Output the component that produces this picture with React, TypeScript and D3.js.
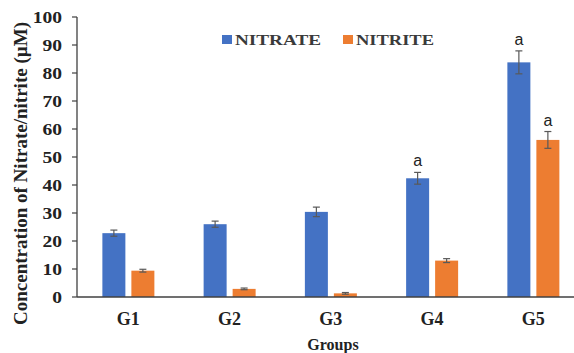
import React from "react";
import * as d3 from "d3";

// Mean concentrations (µM) and standard errors per group
const groups = ["G1", "G2", "G3", "G4", "G5"];
const nitrate = [22.8, 26.0, 30.4, 42.4, 83.8];
const nitrateErr = [1.1, 1.1, 1.7, 2.1, 4.1];
const nitrite = [9.4, 2.9, 1.3, 13.0, 56.1];
const nitriteErr = [0.5, 0.3, 0.3, 0.7, 3.0];
// Significance letters shown above bars ("" = none)
const nitrateSig = ["", "", "", "a", "a"];
const nitriteSig = ["", "", "", "", "a"];
const yTicks = [0, 10, 20, 30, 40, 50, 60, 70, 80, 90, 100];
const seriesNames = ["NITRATE", "NITRITE"];
const colors = ["#4472C4", "#ED7D31"];

const W = 574;
const H = 353;
const left = 77;
const top = 17;
const bottom = 297;
const plotRight = 584;

export default function App() {
  const y = d3.scaleLinear().domain([0, 100]).range([bottom, top]);
  const x = d3.scaleBand().domain(groups).range([left + 0.75, plotRight]).padding(0);
  const barW = 23;
  const gap = 6;
  const serif = "'Liberation Serif', 'Times New Roman', serif";

  const series = [
    { vals: nitrate, errs: nitrateErr, sig: nitrateSig, color: colors[0], off: -gap / 2 - barW },
    { vals: nitrite, errs: nitriteErr, sig: nitriteSig, color: colors[1], off: gap / 2 },
  ];

  return (
    <svg width={W} height={H} style={{ position: "absolute", left: 0, top: 0, background: "#fff" }}>
      {/* y axis */}
      <line x1={left} x2={left} y1={top} y2={bottom} stroke="#404040" strokeWidth={1.3} />
      {yTicks.map((t) => (
        <g key={t}>
          <line x1={left - 5} x2={left} y1={y(t)} y2={y(t)} stroke="#404040" strokeWidth={1.2} />
          <text
            transform={`translate(62,${y(t)}) scale(1.15,1)`}
            dy="0.35em"
            textAnchor="end"
            fontFamily={serif}
            fontWeight="bold"
            fontSize={17}
            fill="#222"
          >
            {t}
          </text>
        </g>
      ))}
      <text
        transform={`translate(21,${(22 + 325) / 2}) rotate(-90)`}
        textAnchor="middle"
        dy="0.35em"
        fontFamily={serif}
        fontWeight="bold"
        fontSize={18}
        textLength={303}
        lengthAdjust="spacingAndGlyphs"
        fill="#222"
      >
        Concentration of Nitrate/nitrite (µM)
      </text>

      {/* bars with error bars */}
      {series.map((s, si) =>
        groups.map((g, i) => {
          const cx = x(g)! + x.bandwidth() / 2 + s.off;
          const v = s.vals[i];
          const e = s.errs[i];
          const mid = cx + barW / 2;
          return (
            <g key={`${si}-${g}`}>
              <rect x={cx} y={y(v)} width={barW} height={y(0) - y(v)} fill={s.color} />
              <line x1={mid} x2={mid} y1={y(v + e)} y2={y(v - e)} stroke="#595959" strokeWidth={1.2} />
              <line x1={mid - 3.5} x2={mid + 3.5} y1={y(v + e)} y2={y(v + e)} stroke="#595959" strokeWidth={1.2} />
              <line x1={mid - 3.5} x2={mid + 3.5} y1={y(v - e)} y2={y(v - e)} stroke="#595959" strokeWidth={1.2} />
              {s.sig[i] && (
                <text
                  x={mid}
                  y={y(v + e) - 6}
                  textAnchor="middle"
                  fontFamily="'Liberation Sans', Arial, sans-serif"
                  fontSize={16}
                  fill="#222"
                >
                  {s.sig[i]}
                </text>
              )}
            </g>
          );
        })
      )}

      {/* x axis */}
      <line x1={left} x2={W} y1={bottom} y2={bottom} stroke="#404040" strokeWidth={1.5} />
      {groups.map((g) => (
        <text
          key={g}
          x={x(g)! + x.bandwidth() / 2}
          y={325}
          textAnchor="middle"
          fontFamily={serif}
          fontWeight="bold"
          fontSize={18}
          fill="#222"
        >
          {g}
        </text>
      ))}
      <text x={333} y={350} textAnchor="middle" fontFamily={serif} fontWeight="bold" fontSize={16} fill="#222">
        Groups
      </text>

      {/* legend */}
      {seriesNames.map((n, i) => {
        const lx = [222, 343][i];
        const len = [86, 78][i];
        return (
          <g key={n}>
            <rect x={lx} y={35} width={10} height={9} fill={colors[i]} />
            <text
              x={lx + 13}
              y={44.5}
              fontFamily={serif}
              fontWeight="bold"
              fontSize={15.5}
              textLength={len}
              lengthAdjust="spacingAndGlyphs"
              fill="#3a3a3a"
            >
              {n}
            </text>
          </g>
        );
      })}
    </svg>
  );
}
